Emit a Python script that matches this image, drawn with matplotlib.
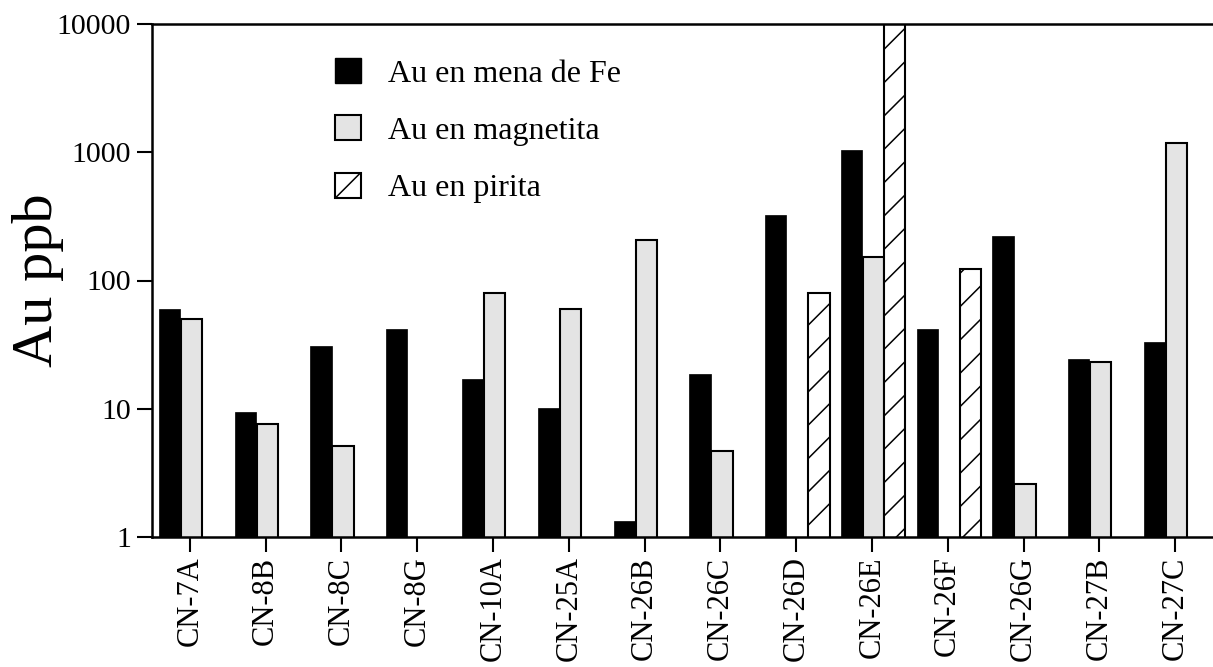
import numpy as np
import matplotlib
matplotlib.use("Agg")
import matplotlib.pyplot as plt
from matplotlib.patches import Patch

categories = ["CN-7A", "CN-8B", "CN-8C", "CN-8G", "CN-10A", "CN-25A", "CN-26B",
              "CN-26C", "CN-26D", "CN-26E", "CN-26F", "CN-26G", "CN-27B", "CN-27C"]
au_fe = [60, 9.5, 31, 42, 17, 10.2, 1.34, 18.6, 324, 1050, 42, 222, 24.3, 33]
au_mag = [50, 7.6, 5.15, np.nan, 80, 60, 207, 4.7, np.nan, 153, np.nan, 2.6, 23, 1190]
au_pir = [np.nan, np.nan, np.nan, np.nan, np.nan, np.nan, np.nan, np.nan,
          80, 10000, 124, np.nan, np.nan, np.nan]
yticks = [1, 10, 100, 1000, 10000]
ytick_labels = ["1", "10", "100", "1000", "10000"]
legend_labels = ["Au en mena de Fe", "Au en magnetita", "Au en pirita"]

plt.rcParams['font.family'] = ['Liberation Serif', 'DejaVu Serif']
plt.rcParams['hatch.linewidth'] = 1.1

fig = plt.figure(figsize=(12.13, 6.67), dpi=100)
ax = fig.add_axes([152/1213, 1-537/667, 1-152/1213, (537-24)/667])

x = np.arange(len(categories))
w = 0.28
ax.bar(x - 0.27, au_fe, width=w, color='black', edgecolor='black', linewidth=0.5)
ax.bar(x + 0.02, au_mag, width=w, facecolor='#e4e4e4', edgecolor='black', linewidth=1.5)
ax.bar(x + 0.30, au_pir, width=w, facecolor='white', edgecolor='black', linewidth=1.5, hatch='/')

ax.set_yscale('log')
ax.set_ylim(1, 10000)
ax.set_xlim(-0.5, len(categories) - 0.5)
ax.set_yticks(yticks)
ax.set_yticklabels(ytick_labels)
ax.yaxis.set_minor_locator(matplotlib.ticker.NullLocator())
ax.set_xticks(x)
ax.set_xticklabels(categories, rotation=90)

ax.tick_params(axis='both', direction='out', length=11, width=1.5, pad=4)
ax.tick_params(axis='x', labelsize=22, pad=3)
ax.tick_params(axis='y', labelsize=21.5)
for s in ['left', 'bottom', 'top']:
    ax.spines[s].set_linewidth(1.8)
ax.spines['right'].set_visible(False)

ax.set_ylabel("Au ppb", fontsize=42, labelpad=-5)

handles = [Patch(facecolor='black', edgecolor='black'),
           Patch(facecolor='#e4e4e4', edgecolor='black', linewidth=1.5),
           Patch(facecolor='white', edgecolor='black', linewidth=1.5, hatch='/')]
leg = ax.legend(handles, legend_labels, loc='upper left', frameon=False,
                bbox_to_anchor=(335/1213, 1-58/667), bbox_transform=fig.transFigure,
                fontsize=23, handlelength=0.82, handleheight=0.82, labelspacing=0.84,
                handletextpad=0.85, borderpad=0, borderaxespad=0)

fig.savefig("out.png", dpi=100)
